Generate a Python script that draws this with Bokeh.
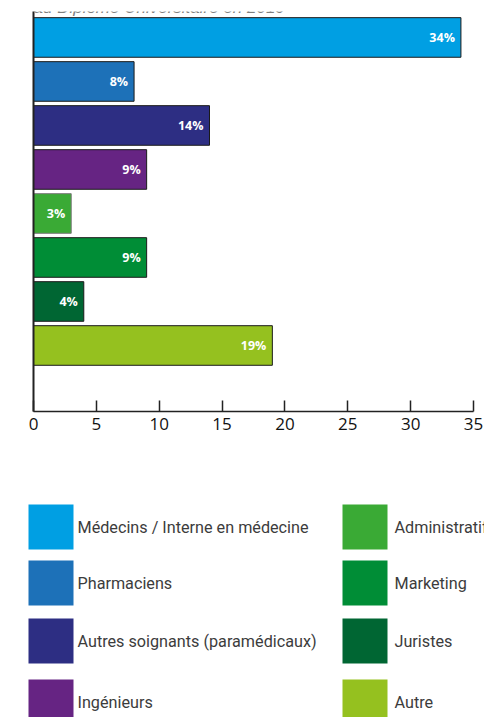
from bokeh.plotting import figure
from bokeh.layouts import column
from bokeh.models import ColumnDataSource, FixedTicker, Range1d, Label
from bokeh.core.properties import value
from bokeh.embed import file_html
from bokeh.resources import INLINE

# ---- data ----
categories = ["Médecins / Interne en médecine", "Pharmaciens",
              "Autres soignants (paramédicaux)", "Ingénieurs",
              "Administratif", "Marketing", "Juristes", "Autre"]
values = [34, 8, 14, 9, 3, 9, 4, 19]
colors = ["#009FE3", "#1D71B8", "#2D2E83", "#662483",
          "#3AAA35", "#008D36", "#006633", "#95C11F"]
x_ticks = [0, 5, 10, 15, 20, 25, 30, 35]
subtitle = "au Diplôme Universitaire en 2019"

n = len(categories)
ypos = [n + 0.5 - i for i in range(n)]  # top bar first, one empty slot below
labels = [f"{v}%" for v in values]
line_colors = ["#1a1a1a"] * n
line_colors[4] = "#777777"

src = ColumnDataSource(dict(y=ypos, v=values, c=colors, lab=labels, lc=line_colors))

W = 484
H1 = 460
p = figure(width=W, height=H1, output_backend="svg", toolbar_location=None,
           x_range=Range1d(0, 35), y_range=Range1d(0, 9.09),
           min_border_left=33, min_border_right=11, min_border_top=11,
           min_border_bottom=49)
p.frame_align = False
p.hbar(y="y", right="v", left=0, height=0.9, fill_color="c", line_color="lc",
       line_width=1, source=src)
p.text(x="v", y="y", text="lab", x_offset=-6, text_align="right",
       text_baseline="middle", text_color="white", text_font=value("Open Sans"),
       text_font_style="bold", text_font_size="12.5px", source=src)

p.xgrid.visible = False
p.ygrid.visible = False
p.outline_line_color = None
p.background_fill_color = "white"

xa = p.xaxis[0]
xa.ticker = FixedTicker(ticks=x_ticks)
xa.major_tick_in = 11
xa.major_tick_out = 0
xa.minor_tick_line_color = None
xa.axis_line_color = "#222222"
xa.axis_line_width = 1.5
xa.major_tick_line_color = "#222222"
xa.major_tick_line_width = 1.5
xa.major_label_text_font = "Open Sans"
xa.major_label_text_font_size = "17px"
xa.major_label_text_color = "#111111"
xa.major_label_standoff = 6

ya = p.yaxis[0]
ya.ticker = FixedTicker(ticks=[])
ya.major_tick_line_color = None
ya.minor_tick_line_color = None
ya.axis_line_color = "#222222"
ya.axis_line_width = 2

p.add_layout(Label(x=0, y=9.19, text=subtitle, text_font="Liberation Sans",
                   text_font_style="italic", text_font_size="17px",
                   text_color="#7f7f7f", text_baseline="alphabetic"))

# ---- legend figure ----
H2 = 717 - H1
lg = figure(width=W, height=H2, output_backend="svg", toolbar_location=None,
            x_range=Range1d(0, W), y_range=Range1d(H2, 0),
            x_axis_type=None, y_axis_type=None,
            min_border=0, min_border_left=0, min_border_right=0,
            min_border_top=0, min_border_bottom=0)
lg.frame_align = False
lg.grid.visible = False
lg.outline_line_color = None

row_y = [66.5, 122.5, 180.5, 241.5]
col_x = [50.5, 364.5]
col_gap = [4, 7]
sq = 45
lx, ly, tx = [], [], []
for i in range(n):
    c = i // 4
    r = i % 4
    lx.append(col_x[c])
    ly.append(row_y[r])
    tx.append(col_x[c] + sq / 2 + col_gap[c])
lsrc = ColumnDataSource(dict(x=lx, y=ly, tx=tx, c=colors, lab=categories))
lg.rect(x="x", y="y", width=sq, height=sq, fill_color="c", line_color=None, source=lsrc)
lg.text(x="tx", y="y", text="lab", text_baseline="middle", text_align="left",
        text_font=value("Roboto"), text_font_size="16.2px", text_color="#3c3c3c",
        source=lsrc)

layout = column(p, lg, spacing=0)
open("out.html", "w").write(file_html(layout, INLINE))
